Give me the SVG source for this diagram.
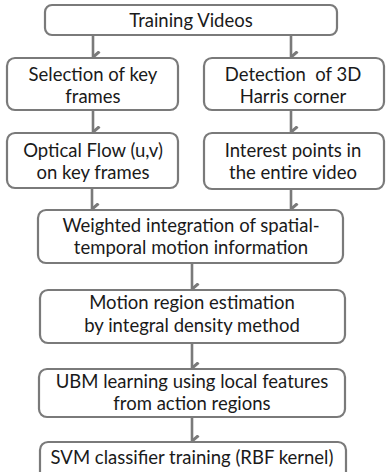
<svg xmlns="http://www.w3.org/2000/svg" width="386" height="472" viewBox="0 0 386 472">
<defs>
<style>
.box{fill:#fff;stroke:#7a7a7a;stroke-width:2.2}
.t{font-family:Lato,"Liberation Sans",sans-serif;font-size:18.5px;fill:#1a1a1a;text-anchor:middle}
.c{stroke:#7a7a7a;stroke-width:2.6;fill:none}
</style>
<marker id="ah" viewBox="0 0 12 10" refX="6" refY="9" markerWidth="12" markerHeight="10" markerUnits="userSpaceOnUse" orient="auto-start-reverse">
<path d="M0.5,2.5 L6,9 L11.5,2.5" fill="none" stroke="#7a7a7a" stroke-width="3"/>
</marker>
</defs>
<rect width="386" height="472" fill="#fff"/>
<g id="connectors">
<line class="c" x1="93" y1="36" x2="93" y2="57" marker-end="url(#ah)"/>
<line class="c" x1="291" y1="36" x2="291" y2="57" marker-end="url(#ah)"/>
<line class="c" x1="93" y1="111" x2="93" y2="132" marker-end="url(#ah)"/>
<line class="c" x1="291" y1="111" x2="291" y2="132" marker-end="url(#ah)"/>
<line class="c" x1="92" y1="189" x2="92" y2="209" marker-end="url(#ah)"/>
<line class="c" x1="291" y1="190" x2="291" y2="209" marker-end="url(#ah)"/>
<line class="c" x1="192" y1="264" x2="192" y2="289" marker-end="url(#ah)"/>
<line class="c" x1="192" y1="344" x2="192" y2="368" marker-end="url(#ah)"/>
<line class="c" x1="192" y1="418" x2="192" y2="441" marker-end="url(#ah)"/>
</g>
<g id="n1"><rect class="box" x="45" y="5" width="292" height="30" rx="7"/><text class="t" x="191" y="27">Training Videos</text></g>
<g id="n2"><rect class="box" x="7" y="58" width="171" height="52" rx="8"/><text class="t" x="93" y="81">Selection of key</text><text class="t" x="93" y="103">frames</text></g>
<g id="n3"><rect class="box" x="204" y="58" width="180" height="52" rx="8"/><text class="t" x="293" y="81" xml:space="preserve">Detection  of 3D</text><text class="t" x="293" y="103">Harris corner</text></g>
<g id="n4"><rect class="box" x="7" y="133" width="171" height="55" rx="8"/><text class="t" x="93" y="157">Optical Flow (u,v)</text><text class="t" x="93" y="179">on key frames</text></g>
<g id="n5"><rect class="box" x="204" y="133" width="180" height="56" rx="8"/><text class="t" x="293" y="157">Interest points in</text><text class="t" x="293" y="179">the entire video</text></g>
<g id="n6"><rect class="box" x="38" y="210" width="305" height="53" rx="8"/><text class="t" x="191" y="232">Weighted integration of spatial-</text><text class="t" x="191" y="254">temporal motion information</text></g>
<g id="n7"><rect class="box" x="40" y="290" width="305" height="53" rx="8"/><text class="t" x="192" y="309">Motion region estimation</text><text class="t" x="192" y="332">by integral density method</text></g>
<g id="n8"><rect class="box" x="39" y="369" width="306" height="48" rx="8"/><text class="t" x="192" y="388">UBM learning using local features</text><text class="t" x="192" y="410">from action regions</text></g>
<g id="n9"><rect class="box" x="40" y="442" width="306" height="40" rx="8"/><text class="t" x="192" y="464">SVM classifier training (RBF kernel)</text></g>
</svg>
